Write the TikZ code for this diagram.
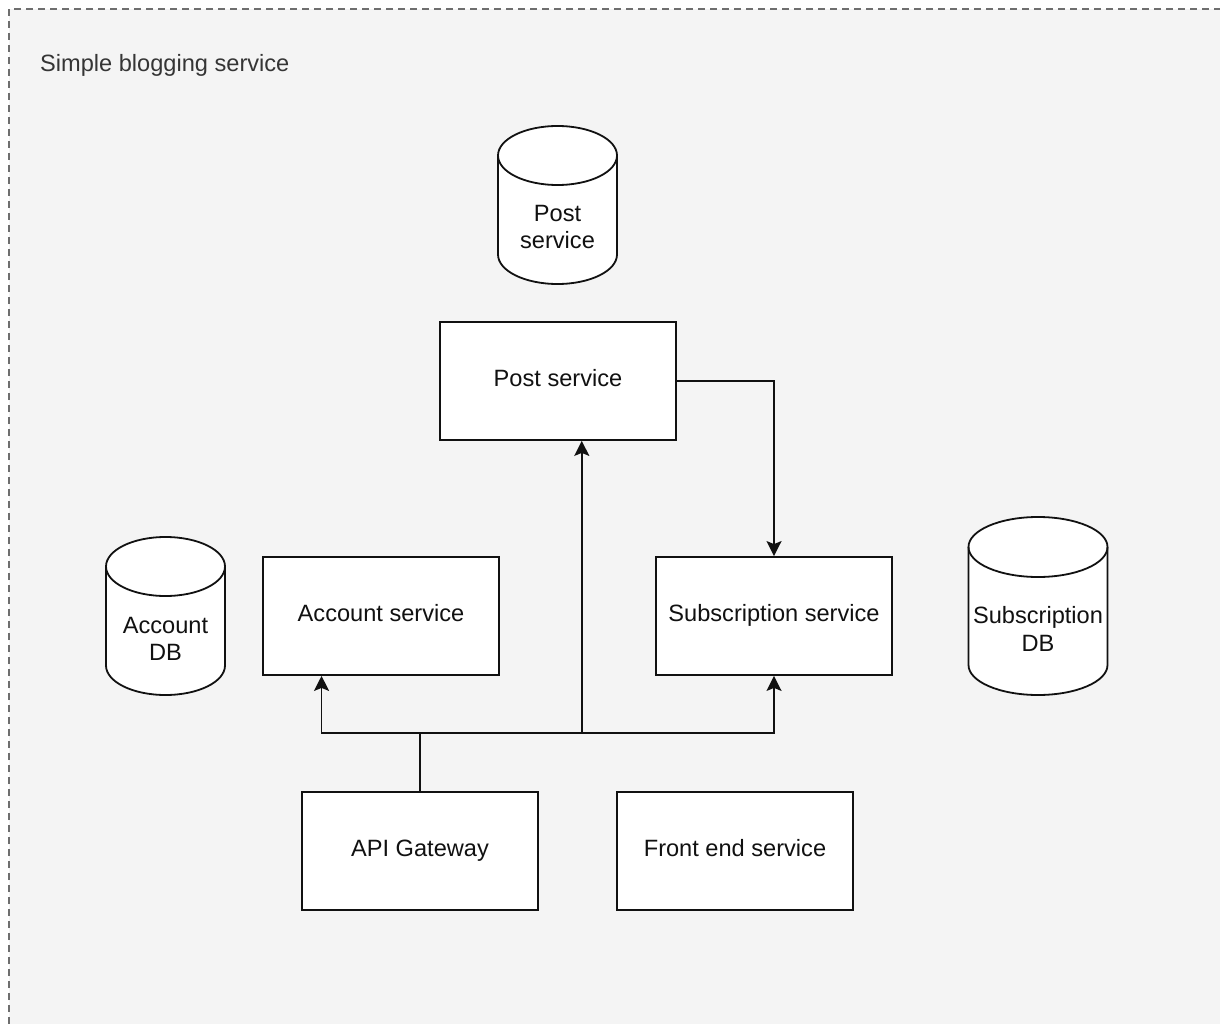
\documentclass[tikz,border=0pt]{standalone}
\usepackage{fontspec}
\setmainfont{Liberation Sans}
\usetikzlibrary{arrows.meta,calc}

\definecolor{canvas}{HTML}{F4F4F4}
\definecolor{frameline}{HTML}{6E6E6E}
\definecolor{ink}{HTML}{111111}

\tikzset{
  svcbox/.style={draw=ink, fill=white, line width=1.8pt, minimum width=236pt,
    minimum height=118pt, inner sep=0pt, text=ink, text height=17pt, text depth=6pt,
    font=\fontsize{23.6}{27.5}\selectfont},
  dblabel/.style={align=center, inner sep=0pt, text=ink,
    font=\fontsize{23.6}{27.5}\selectfont},
  link/.style={draw=ink, line width=1.8pt},
  arrowend/.style={-{Stealth[length=15pt,width=15pt,inset=3pt]}},
}

% database cylinder: centre x, top y, bottom y, half width, ellipse half height
\newcommand\dbcylinder[5]{%
  \filldraw[draw=ink, fill=white, line width=1.8pt]
    (#1-#4,#2+#5) -- (#1-#4,#3-#5) arc (180:0:#4 and #5)
    -- (#1+#4,#2+#5) arc (0:-180:#4 and #5) -- cycle;
  \draw[ink, line width=1.8pt] (#1-#4,#2+#5) arc (180:0:#4 and #5);
}

\begin{document}
\begin{tikzpicture}[x=1pt,y=-1pt]
  \useasboundingbox (0,0) rectangle (1220,1024);
  \fill[white] (0,0) rectangle (1220,1024);
  \fill[canvas] (9,9) rectangle (1220,1024);
  \draw[frameline, line width=1.2pt, dash pattern=on 7pt off 5pt]
    (9,1024) -- (9,9) -- (1220,9);

  \node[anchor=west, inner sep=0pt, text=ink!85,
    font=\fontsize{23.6}{27.5}\selectfont] (title) at (40,65.5) {Simple blogging service};

  % databases
  \dbcylinder{557.5}{126}{284}{59.5}{29.5}
  \node[dblabel] (postdb) at (557.5,227) {Post\\service};
  \dbcylinder{165.5}{537}{695}{59.5}{29.5}
  \node[dblabel] (accdb) at (165.5,639) {Account\\DB};
  \dbcylinder{1038}{517}{695}{69.5}{30}
  \node[dblabel] (subdb) at (1038,629) {Subscription\\DB};

  % services
  \node[svcbox] (post) at (558,381) {Post service};
  \node[svcbox] (acc) at (381,616) {Account service};
  \node[svcbox] (sub) at (774,616) {Subscription service};
  \node[svcbox] (api) at (420,851) {API Gateway};
  \node[svcbox] (front) at (735,851) {Front end service};

  % connectors
  \coordinate (split) at ($(api.north)+(0,-58)$);
  \coordinate (accin) at ($(acc.south west)!0.25!(acc.south east)$);
  \coordinate (postin) at ($(post.south west)!0.6!(post.south east)$);

  \draw[link,arrowend] (post.east) -| (sub.north);
  \draw[link,arrowend] (api.north) -- (split) -| (accin);
  \draw[link,arrowend] (split) -| (postin);
  \draw[link,arrowend] (split) -| (sub.south);
\end{tikzpicture}
\end{document}
